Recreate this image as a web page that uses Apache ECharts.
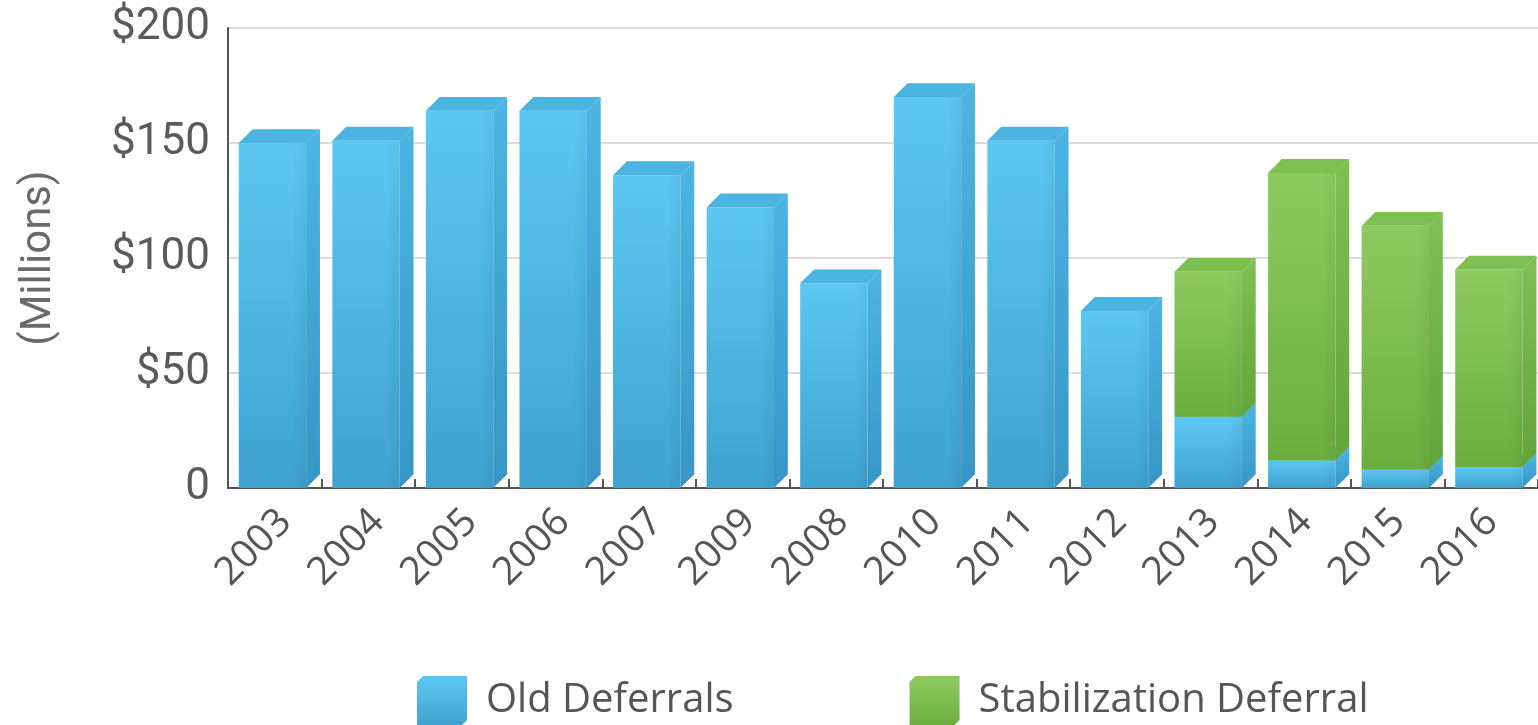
<!DOCTYPE html>
<html>
<head>
<meta charset="utf-8">
<title>Deferrals</title>
<script src="https://cdn.jsdelivr.net/npm/echarts@6/dist/echarts.min.js"></script>
<style>
  html, body { margin: 0; padding: 0; background: #ffffff; }
  #chart { width: 1538px; height: 725px; }
</style>
</head>
<body>
<div id="chart"></div>
<script>
// Fiscal years, in the order they are plotted
const categories = ['2003', '2004', '2005', '2006', '2007', '2009', '2008',
                    '2010', '2011', '2012', '2013', '2014', '2015', '2016'];

// Amounts in millions of dollars
const oldDeferrals = [150, 151, 164, 164, 136, 122, 89, 170, 151, 77, 31, 12, 8, 9];
const stabilizationDeferral = [0, 0, 0, 0, 0, 0, 0, 0, 0, 0, 63, 125, 106, 86];

// Value axis ticks
const yTickValues = [0, 50, 100, 150, 200];
const yTickLabels = ['0', '$50', '$100', '$150', '$200'];

const seriesNames = ['Old Deferrals', 'Stabilization Deferral'];

const palette = {
  blue: {
    frontTop: '#5cc8f2', frontBottom: '#3fa2d0',
    side: '#4cb5e3', sideBottom: '#3796c6',
    top: '#4bb4e1'
  },
  green: {
    frontTop: '#8fca61', frontBottom: '#6bae3e',
    side: '#80bf54', sideBottom: '#62a538',
    top: '#7ebf52'
  }
};

function vGrad(a, b) {
  return new echarts.graphic.LinearGradient(0, 0, 0, 1, [
    { offset: 0, color: a }, { offset: 1, color: b }
  ]);
}

// Oblique 3D column: front face, right side and top face
function boxRenderer(c) {
  return function (params, api) {
    const idx = api.value(0);
    const lo = api.value(1);
    const hi = api.value(2);
    if (!(hi > lo)) return null;
    const base = api.coord([idx, lo]);
    const top = api.coord([idx, hi]);
    const band = api.size([1, 0])[0];
    const cx = base[0];
    const x0 = cx - band * 0.385;
    const x1 = cx + band * 0.335;
    const d = band * 0.148;
    const yb = base[1];
    const yt = top[1];
    return {
      type: 'group',
      children: [
        {
          type: 'rect',
          shape: { x: x0, y: yt, width: x1 - x0, height: yb - yt },
          style: { fill: vGrad(c.frontTop, c.frontBottom) }
        },
        {
          type: 'rect',
          shape: { x: x0, y: yt, width: x1 - x0, height: yb - yt },
          style: {
            fill: new echarts.graphic.LinearGradient(0, 0, 1, 0, [
              { offset: 0, color: 'rgba(0,0,0,0)' },
              { offset: 0.8, color: 'rgba(0,0,0,0)' },
              { offset: 1, color: 'rgba(0,40,80,0.06)' }
            ])
          }
        },
        {
          type: 'polygon',
          shape: { points: [[x1, yb], [x1, yt], [x1 + d, yt - d], [x1 + d, yb - d]] },
          style: { fill: vGrad(c.side, c.sideBottom) }
        },
        {
          type: 'polygon',
          shape: { points: [[x0, yt], [x0 + d, yt - d], [x1 + d, yt - d], [x1, yt]] },
          style: { fill: c.top }
        }
      ]
    };
  };
}

const oldData = categories.map((_, i) => [i, 0, oldDeferrals[i]]);
const stabData = categories.map((_, i) => [i, oldDeferrals[i], oldDeferrals[i] + stabilizationDeferral[i]]);

const cubeIcon = 'path://M0,6 L6,0 L50,0 L50,44 L44,50 L0,50 Z';

const labelFont = '"Open Sans", sans-serif';
const tickFont = 'Roboto, "Liberation Sans", sans-serif';

const chart = echarts.init(document.getElementById('chart'), null, { renderer: 'canvas' });

chart.setOption({
  animation: false,
  backgroundColor: '#ffffff',
  grid: [
    { left: 228, right: -6, top: 28, bottom: 237, containLabel: false },
    // label lane for the year names, nudged right of the bars' centres
    { left: 239, right: -17, top: 28, bottom: 237, containLabel: false }
  ],
  legend: {
    left: 412,
    top: 671,
    itemWidth: 50,
    itemHeight: 50,
    itemGap: 176,
    icon: cubeIcon,
    textStyle: {
      fontFamily: labelFont,
      fontSize: 40,
      color: '#555555',
      padding: [0, 0, 0, 14]
    },
    data: [
      { name: seriesNames[0], itemStyle: { color: vGrad(palette.blue.frontTop, palette.blue.frontBottom) } },
      { name: seriesNames[1], itemStyle: { color: vGrad(palette.green.frontTop, palette.green.frontBottom) } }
    ]
  },
  xAxis: [
    {
      type: 'category',
      gridIndex: 0,
      data: categories,
      boundaryGap: true,
      axisLine: { show: true, lineStyle: { color: '#555555', width: 2 } },
      axisTick: { show: true, inside: true, length: 9, lineStyle: { color: '#555555', width: 2 } },
      axisLabel: { show: false },
      splitLine: { show: false }
    },
    {
      type: 'category',
      gridIndex: 1,
      data: categories,
      boundaryGap: true,
      axisLine: { show: false },
      axisTick: { show: false },
      axisLabel: {
        rotate: 45,
        margin: 28,
        interval: 0,
        fontFamily: labelFont,
        fontSize: 39,
        color: '#555555'
      },
      splitLine: { show: false }
    }
  ],
  yAxis: [
    {
      type: 'value',
      gridIndex: 0,
      min: 0,
      max: 200,
      interval: 50,
      name: '(Millions)',
      nameLocation: 'middle',
      nameRotate: 90,
      nameGap: 168,
      nameTextStyle: {
        fontFamily: tickFont,
        fontWeight: 400,
        fontSize: 42,
        color: '#6a6a6a'
      },
      axisLine: { show: true, lineStyle: { color: '#555555', width: 2 } },
      axisTick: { show: false },
      axisLabel: {
        margin: 18,
        fontFamily: tickFont,
        fontWeight: 400,
        fontSize: 44,
        color: '#5a5a5a',
        formatter: function (v) {
          const k = yTickValues.indexOf(v);
          return k >= 0 ? yTickLabels[k] : '';
        }
      },
      splitLine: { show: true, lineStyle: { color: '#dcdcdc', width: 2 } }
    },
    {
      type: 'value',
      gridIndex: 1,
      min: 0,
      max: 200,
      interval: 50,
      show: false
    }
  ],
  series: [
    {
      name: seriesNames[0],
      type: 'custom',
      xAxisIndex: 0,
      yAxisIndex: 0,
      renderItem: boxRenderer(palette.blue),
      encode: { x: 0, y: [1, 2] },
      itemStyle: { color: palette.blue.frontTop },
      data: oldData,
      z: 2
    },
    {
      name: seriesNames[1],
      type: 'custom',
      xAxisIndex: 0,
      yAxisIndex: 0,
      renderItem: boxRenderer(palette.green),
      encode: { x: 0, y: [1, 2] },
      itemStyle: { color: palette.green.frontTop },
      data: stabData,
      z: 3
    }
  ]
});
</script>
</body>
</html>
